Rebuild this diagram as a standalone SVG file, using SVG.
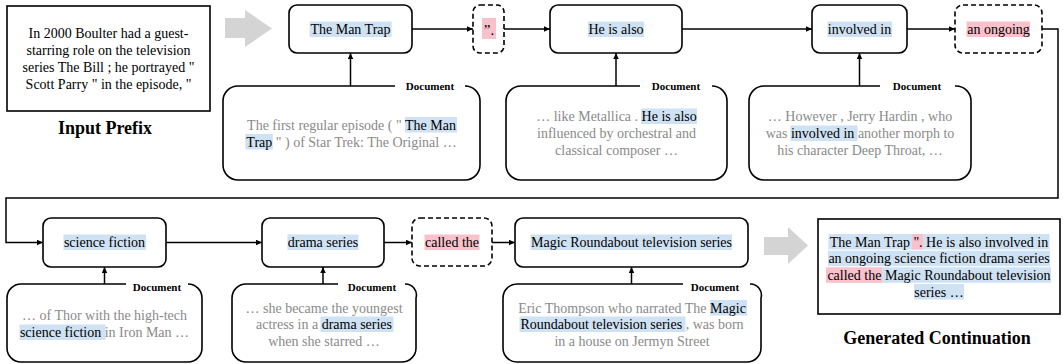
<svg xmlns="http://www.w3.org/2000/svg" width="1063" height="364" viewBox="0 0 1063 364">
<style>
text{font-family:"Liberation Serif","Times New Roman",serif;}
.t{font-size:14px;fill:#000;text-anchor:middle;}
.d{font-size:14px;fill:#8a8a8a;text-anchor:middle;}
.k{fill:#000;}
.lbl{font-size:11px;font-weight:bold;fill:#000;text-anchor:middle;}
.cap{font-size:18px;font-weight:bold;fill:#000;text-anchor:middle;}
.node{fill:#fff;stroke:#000;stroke-width:1.6;}
.dash{fill:#fff;stroke:#000;stroke-width:1.6;stroke-dasharray:5 3;}
.doc{fill:none;stroke:#000;stroke-width:1.6;}
.box{fill:#fff;stroke:#000;stroke-width:1.6;}
.b{fill:#cfe2f3;}
.p{fill:#f8c1cb;}
.c{fill:none;stroke:#000;stroke-width:1.5;}
.g{fill:#d4d4d4;}
</style>
<defs>
<marker id="ah" markerUnits="userSpaceOnUse" markerWidth="7" markerHeight="6" refX="6" refY="2.75" orient="auto">
<path d="M0,0 L6,2.75 L0,5.5 z" fill="#000"/>
</marker>
</defs>

<g id="input-prefix">
<rect class="box" x="7" y="6" width="203" height="105"/>
<text class="t" x="108.5" y="37.5">In 2000 Boulter had a guest-</text>
<text class="t" x="108.5" y="54.5">starring role on the television</text>
<text class="t" x="108.5" y="71.5">series The Bill ; he portrayed "</text>
<text class="t" x="108.5" y="88.5">Scott Parry " in the episode, "</text>
<text class="cap" x="105" y="134">Input Prefix</text>
</g>

<g id="arrow-in">
<polygon class="g" points="225,18 245,18 245,10 272,28.5 245,47 245,38 225,38"/>
</g>

<g id="connectors">
<line class="c" x1="412" y1="29" x2="473" y2="29" marker-end="url(#ah)"/>
<line class="c" x1="504" y1="29" x2="550" y2="29" marker-end="url(#ah)"/>
<line class="c" x1="682" y1="29" x2="812" y2="29" marker-end="url(#ah)"/>
<line class="c" x1="907" y1="29" x2="955" y2="29" marker-end="url(#ah)"/>
<path class="c" d="M1042,29 H1058 V198 H6 V242.5 H43" marker-end="url(#ah)"/>
<line class="c" x1="166" y1="242.5" x2="262" y2="242.5" marker-end="url(#ah)"/>
<line class="c" x1="384" y1="242.5" x2="412" y2="242.5" marker-end="url(#ah)"/>
<line class="c" x1="492" y1="242.5" x2="515" y2="242.5" marker-end="url(#ah)"/>
<line class="c" x1="350.5" y1="86" x2="350.5" y2="53" marker-end="url(#ah)"/>
<line class="c" x1="616" y1="86" x2="616" y2="53" marker-end="url(#ah)"/>
<line class="c" x1="859.5" y1="86" x2="859.5" y2="53" marker-end="url(#ah)"/>
<line class="c" x1="104.5" y1="284" x2="104.5" y2="267" marker-end="url(#ah)"/>
<line class="c" x1="323" y1="284" x2="323" y2="267" marker-end="url(#ah)"/>
<line class="c" x1="631.5" y1="284" x2="631.5" y2="267" marker-end="url(#ah)"/>
</g>

<g id="node-man-trap">
<rect class="node" x="289" y="5" width="123" height="48" rx="8"/>
<rect class="b" x="309.6" y="21.5" width="82" height="15.5"/>
<text class="t" x="350.5" y="34">The Man Trap</text>
</g>

<g id="node-quote">
<rect class="dash" x="473" y="5" width="31" height="48" rx="7"/>
<rect class="p" x="482" y="18" width="14" height="21"/>
<text class="t" x="489" y="35" style="font-size:15px">”.</text>
</g>

<g id="node-he-is-also">
<rect class="node" x="550" y="5" width="132" height="48" rx="8"/>
<rect class="b" x="588" y="21.5" width="56" height="15.5"/>
<text class="t" x="616" y="34">He is also</text>
</g>

<g id="node-involved-in">
<rect class="node" x="812" y="5" width="95" height="48" rx="8"/>
<rect class="b" x="827.5" y="21.5" width="64.5" height="15.5"/>
<text class="t" x="859.5" y="34">involved in</text>
</g>

<g id="node-an-ongoing">
<rect class="dash" x="955" y="5" width="87" height="48" rx="8"/>
<rect class="p" x="966.5" y="21.5" width="63.5" height="15.5"/>
<text class="t" x="998.5" y="34">an ongoing</text>
</g>

<g id="doc-1">
<path class="doc" d="M467,86 H465 A15,15 0 0 1 480,101 V165 A15,15 0 0 1 465,180 H238 A15,15 0 0 1 223,165 V101 A15,15 0 0 1 238,86 H395"/>
<text class="lbl" x="430" y="90">Document</text>
<rect class="b" x="405" y="117" width="52" height="15.5"/>
<rect class="b" x="245.3" y="134" width="27.5" height="15.5"/>
<text class="d" x="351.5" y="129.5">The first regular episode ( " <tspan class="k">The Man</tspan></text>
<text class="d" x="351.5" y="146.5"><tspan class="k">Trap</tspan> " ) of Star Trek: The Original …</text>
</g>

<g id="doc-2">
<path class="doc" d="M712,86 A15,15 0 0 1 727,101 V165 A15,15 0 0 1 712,180 H521 A15,15 0 0 1 506,165 V101 A15,15 0 0 1 521,86 H640"/>
<text class="lbl" x="676" y="90">Document</text>
<rect class="b" x="641" y="108.5" width="56" height="15.5"/>
<text class="d" x="616.5" y="121">… like Metallica . <tspan class="k">He is also</tspan></text>
<text class="d" x="616.5" y="138">influenced by orchestral and</text>
<text class="d" x="616.5" y="155">classical composer …</text>
</g>

<g id="doc-3">
<path class="doc" d="M955,86 H956 A15,15 0 0 1 971,101 V165 A15,15 0 0 1 956,180 H764 A15,15 0 0 1 749,165 V101 A15,15 0 0 1 764,86 H880"/>
<text class="lbl" x="917" y="90">Document</text>
<rect class="b" x="790.5" y="125.5" width="67" height="15.5"/>
<text class="d" x="860" y="121">… However , Jerry Hardin , who</text>
<text class="d" x="860" y="138">was <tspan class="k">involved in</tspan> another morph to</text>
<text class="d" x="860" y="155">his character Deep Throat, …</text>
</g>

<g id="node-science-fiction">
<rect class="node" x="43" y="218" width="123" height="49" rx="8"/>
<rect class="b" x="63.5" y="234.5" width="82.5" height="15.5"/>
<text class="t" x="104.5" y="247">science fiction</text>
</g>

<g id="node-drama-series">
<rect class="node" x="262" y="218" width="122" height="49" rx="8"/>
<rect class="b" x="287.5" y="234.5" width="71" height="15.5"/>
<text class="t" x="323" y="247">drama series</text>
</g>

<g id="node-called-the">
<rect class="dash" x="412" y="218" width="80" height="48" rx="8"/>
<rect class="p" x="424.5" y="234.5" width="55" height="15.5"/>
<text class="t" x="452" y="247">called the</text>
</g>

<g id="node-magic">
<rect class="node" x="515" y="218" width="233" height="49" rx="8"/>
<rect class="b" x="530.5" y="234.5" width="201.5" height="15.5"/>
<text class="t" x="631.5" y="247">Magic Roundabout television series</text>
</g>

<g id="doc-4">
<path class="doc" d="M188,284 A14,14 0 0 1 202,298 V348 A14,14 0 0 1 188,362 H21 A14,14 0 0 1 7,348 V298 A14,14 0 0 1 21,284 H126"/>
<text class="lbl" x="157" y="290.5">Document</text>
<rect class="b" x="19.5" y="324.5" width="86" height="15.5"/>
<text class="d" x="104.5" y="320">… of Thor with the high-tech</text>
<text class="d" x="104.5" y="337"><tspan class="k">science fiction</tspan> in Iron Man …</text>
</g>

<g id="doc-5">
<path class="doc" d="M405,284 A11,11 0 0 1 416,298 V348 A14,14 0 0 1 402,362 H246 A14,14 0 0 1 232,348 V298 A14,14 0 0 1 246,284 H338"/>
<text class="lbl" x="372" y="290.5">Document</text>
<rect class="b" x="320.5" y="316.5" width="73" height="15.5"/>
<text class="d" x="324" y="312.5">… she became the youngest</text>
<text class="d" x="324" y="329"><tspan>actress in a </tspan><tspan class="k">drama series</tspan></text>
<text class="d" x="324" y="345.5">when she starred …</text>
</g>

<g id="doc-6">
<path class="doc" d="M750,284 A11,11 0 0 1 761,298 V348 A14,14 0 0 1 747,362 H517 A14,14 0 0 1 503,348 V298 A14,14 0 0 1 517,284 H683"/>
<text class="lbl" x="715" y="290.5">Document</text>
<rect class="b" x="710" y="300" width="37" height="15.5"/>
<rect class="b" x="519.5" y="316.5" width="166" height="15.5"/>
<text class="d" x="632" y="312.5">Eric Thompson who narrated The <tspan class="k">Magic</tspan></text>
<text class="d" x="632" y="329"><tspan class="k">Roundabout television series</tspan> , was born</text>
<text class="d" x="632" y="345.5">in a house on Jermyn Street</text>
</g>

<g id="arrow-out">
<polygon class="g" points="764,237 788,237 788,227 808,245.5 788,264 788,255 764,255"/>
</g>

<g id="generated-continuation">
<rect class="box" x="818" y="219" width="242" height="95"/>
<rect class="b" x="828.5" y="234" width="221" height="15.5"/>
<rect class="p" x="912" y="234" width="11" height="15.5"/>
<rect class="b" x="828" y="250.7" width="222" height="15.5"/>
<rect class="p" x="826" y="267.3" width="56" height="15.5"/>
<rect class="b" x="882" y="267.3" width="169" height="15.5"/>
<rect class="b" x="914" y="284" width="50" height="15.5"/>
<text class="t" x="939" y="246.5">The Man Trap ". He is also involved in</text>
<text class="t" x="939" y="263.2">an ongoing science fiction drama series</text>
<text class="t" x="939" y="279.8">called the Magic Roundabout television</text>
<text class="t" x="939" y="296.5">series …</text>
<text class="cap" x="937" y="344">Generated Continuation</text>
</g>
</svg>
